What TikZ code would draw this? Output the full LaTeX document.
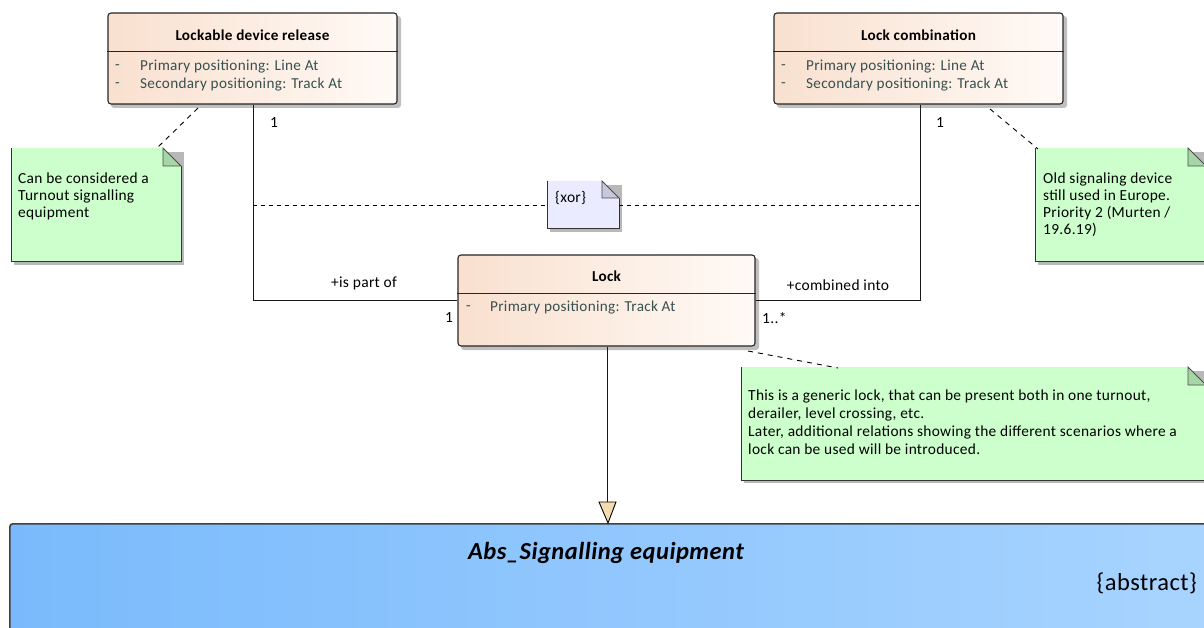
\documentclass[tikz,border=0pt]{standalone}
\usepackage{fontspec}
\setmainfont{Carlito}[LetterSpace=2]
\usetikzlibrary{calc}
\definecolor{peachL}{RGB}{249,224,207}
\definecolor{peachR}{RGB}{255,250,246}
\definecolor{attr}{RGB}{55,80,80}
\definecolor{noteG}{RGB}{204,255,204}
\definecolor{foldG}{RGB}{166,214,166}
\definecolor{noteB}{RGB}{235,235,255}
\definecolor{foldB}{RGB}{200,200,220}
\definecolor{blueL}{RGB}{122,186,252}
\definecolor{blueR}{RGB}{168,212,255}
\definecolor{arrowF}{RGB}{245,218,176}
\newcommand\drawnote[7]{% fill, fold fill, x1,y1,x2,y2, fold
  \fill[black!28] (#3+3,#4+4) rectangle (#5+3,#6+3);
  \fill[#1] (#3,#4) -- (#5-#7,#4) -- (#5,#4+#7) -- (#5,#6) -- (#3,#6) -- cycle;
  \draw[black!80, line width=1pt] (#3,#4) -- (#3,#6) -- (#5,#6) -- (#5,#4+#7);
  \filldraw[fill=#2, draw=black!70, line width=0.8pt] (#5-#7,#4) -- (#5-#7,#4+#7) -- (#5,#4+#7) -- cycle;
}
\begin{document}
\begin{tikzpicture}[x=1pt,y=-1pt,
  classbox/.style={draw=black!85, line width=1.1pt, rounded corners=3pt, left color=peachL, right color=peachR, inner sep=0pt},
  cshadow/.style={fill=black!25, rounded corners=3pt},
  ctitle/.style={font=\bfseries\fontsize{15.2}{17}\selectfont},
  cattr/.style={font=\fontsize{15.2}{17}\selectfont, text=attr, anchor=west, inner sep=0pt},
  conn/.style={draw=black!90, line width=0.9pt},
  lbl/.style={font=\fontsize{15.5}{17}\selectfont, inner sep=0pt},
  notetext/.style={font=\fontsize{15.4}{17}\selectfont, anchor=north west, align=left, inner sep=0pt},
  notelink/.style={draw=black, line width=0.9pt, dash pattern=on 5pt off 5pt}
]
\useasboundingbox (0,0) rectangle (1204,628);

% ---- Abstract class (bottom)
\node[draw=black!75, line width=1.6pt, rounded corners=3pt, left color=blueL, right color=blueR,
      minimum width=1204pt, minimum height=120pt, inner sep=0pt, anchor=north west] (abs) at (9,523) {};
\node[font=\bfseries\itshape\fontsize{24.5}{28}\selectfont, inner sep=0pt] (abst) at (606,553) {Abs\_Signalling equipment};
\node[font=\fontsize{24.5}{28}\selectfont, anchor=east, inner sep=0pt] (absa) at (1197,583) {\{abstract\}};

% ---- Lockable device release
\fill[cshadow] (111,16) rectangle (401,108);
\node[classbox, minimum width=289pt, minimum height=91pt] (ldr) at (252.5,58.5) {};
\draw[black!85, line width=1pt] (ldr.west |- 0,52) -- (ldr.east |- 0,52);
\node[ctitle] (ldrt) at (252.5,35) {Lockable device release};
\node[cattr] (ldrd1) at (115,67) {-};
\node[cattr] (ldra1) at (140,67) {Primary positioning: Line At};
\node[cattr] (ldrd2) at (115,85) {-};
\node[cattr] (ldra2) at (140,85) {Secondary positioning: Track At};

% ---- Lock combination
\fill[cshadow] (777,16) rectangle (1067,108);
\node[classbox, minimum width=289pt, minimum height=91pt] (lc) at (918.5,58.5) {};
\draw[black!85, line width=1pt] (lc.west |- 0,52) -- (lc.east |- 0,52);
\node[ctitle] (lct) at (918.5,35) {Lock combination};
\node[cattr] (lcd1) at (781,67) {-};
\node[cattr] (lca1) at (806,67) {Primary positioning: Line At};
\node[cattr] (lcd2) at (781,85) {-};
\node[cattr] (lca2) at (806,85) {Secondary positioning: Track At};

% ---- Lock
\fill[cshadow] (461,258) rectangle (759,350);
\node[classbox, minimum width=297pt, minimum height=91pt] (lock) at (606.5,300.5) {};
\draw[black!85, line width=1pt] (lock.west |- 0,293) -- (lock.east |- 0,293);
\node[ctitle] (lockt) at (606.5,276) {Lock};
\node[cattr] (lockd1) at (466,308) {-};
\node[cattr] (locka1) at (490,308) {Primary positioning: Track At};

% ---- xor note
\drawnote{noteB}{foldB}{547}{181}{619}{229}{17}
\node[minimum width=72pt, minimum height=48pt, inner sep=0pt] (xor) at (583,205) {};
\node[font=\fontsize{15.5}{17}\selectfont, anchor=west, inner sep=0pt] (xort) at (555,198) {\{xor\}};

% ---- Notes
\drawnote{noteG}{foldG}{11}{148}{181}{262}{18}
\node[minimum width=170pt, minimum height=114pt, inner sep=0pt] (n1) at (96,205) {};
\node[notetext] (n1t) at (18,173) {Can be considered a\\Turnout signalling\\equipment};

\drawnote{noteG}{foldG}{1035}{148}{1206}{262}{18}
\node[minimum width=171pt, minimum height=114pt, inner sep=0pt] (n2) at (1120.5,205) {};
\node[notetext] (n2t) at (1043,173) {Old signaling device\\still used in Europe.\\Priority 2 (Murten /\\19.6.19)};

\drawnote{noteG}{foldG}{741}{367}{1206}{480}{18}
\node[minimum width=465pt, minimum height=113pt, inner sep=0pt] (n3) at (973.5,423.5) {};
\node[notetext, font=\fontsize{15.4}{18}\selectfont] (n3t) at (748,390) {This is a generic lock, that can be present both in one turnout,\\derailer, level crossing, etc.\\Later, additional relations showing the different scenarios where a\\lock can be used will be introduced.};

% ---- Associations
\coordinate (b1) at (253,300);
\coordinate (b2) at (920,300);
\draw[conn] (ldr.south -| b1) |- (lock.west);
\draw[conn] (lc.south -| b2) |- (lock.east);
\node[lbl] (m1) at (274,123) {1};
\node[lbl] (r1) at (364,283) {+is part of};
\node[lbl] (m2) at (449,318) {1};
\node[lbl] (m3) at (940,123) {1};
\node[lbl] (r2) at (838,285) {+combined into};
\node[lbl, anchor=west] (m4) at (762,318) {1..*};

% ---- xor constraint
\coordinate (x1) at (253,205);
\coordinate (x2) at (920,205);
\draw[notelink, line width=0.8pt, dash pattern=on 4pt off 4pt] (x1) -- (xor.west);
\draw[notelink, line width=0.8pt, dash pattern=on 4pt off 4pt] (xor.east) -- (x2);

% ---- note links
\coordinate (l1a) at (198,108);
\coordinate (l1b) at (156,149);
\draw[notelink] (l1a) -- (l1b);
\coordinate (l2a) at (990,109);
\coordinate (l2b) at (1038,149);
\draw[notelink] (l2a) -- (l2b);
\coordinate (l3a) at (748,351);
\coordinate (l3b) at (838,368);
\draw[notelink] (l3a) -- (l3b);

% ---- Generalization
\coordinate (g1) at (607,502);
\draw[conn] (lock.south -| g1) -- (g1);
\filldraw[fill=arrowF, draw=black, line width=0.9pt] (599,502) -- (616,502) -- (608,523) -- cycle;
\end{tikzpicture}
\end{document}
